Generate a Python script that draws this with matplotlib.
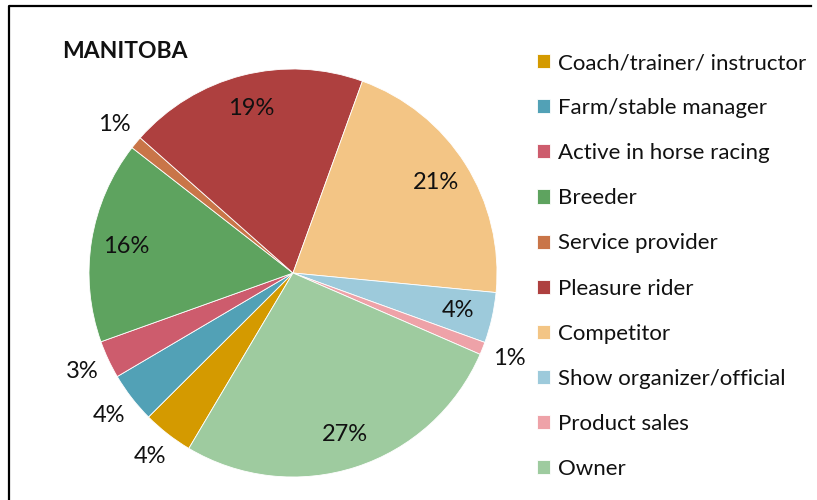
import matplotlib.pyplot as plt
from matplotlib.lines import Line2D
import numpy as np

plt.rcParams['font.family'] = ['Lato', 'DejaVu Sans']

categories = ['Coach/trainer/ instructor', 'Farm/stable manager', 'Active in horse racing',
              'Breeder', 'Service provider', 'Pleasure rider', 'Competitor',
              'Show organizer/official', 'Product sales', 'Owner']
values = [4, 4, 3, 16, 1, 19, 21, 4, 1, 27]
colors = ['#D49A00', '#52A1B6', '#CD5C6D', '#5EA35F', '#C97548', '#AE403F',
          '#F3C585', '#9DCADB', '#EEA2A8', '#9ECB9F']
# labels drawn outside the pie
outside = [True, True, True, False, True, False, False, False, True, False]

W, H = 817, 500
fig = plt.figure(figsize=(W / 100, H / 100), dpi=100)
ax = fig.add_axes([0, 0, 1, 1])

cx, cy, r = 293, H - 273, 204
wedges, _ = ax.pie(values, colors=colors, radius=r, center=(cx, cy),
                   startangle=239.3, counterclock=False, frame=True,
                   wedgeprops=dict(edgecolor='white', linewidth=0.6))
ax.set_xlim(0, W)
ax.set_ylim(0, H)
ax.set_aspect('equal')
ax.axis('off')

for w, v, out in zip(wedges, values, outside):
    mid = np.deg2rad((w.theta1 + w.theta2) / 2)
    k = 1.14 if out else 0.83
    ax.text(cx + k * r * np.cos(mid), cy + k * r * np.sin(mid), f'{v}%',
            ha='center', va='center', fontsize=17, color='#111111')

ax.text(62, H - 52, 'MANITOBA', fontsize=16.5, fontweight='bold',
        ha='left', va='center', color='#111111')

leg = ax.legend(wedges, categories, loc='upper left', bbox_to_anchor=(537 / W, 1 - 53 / H),
                frameon=False, fontsize=16, handlelength=0.6, handleheight=0.6,
                handletextpad=0.35, labelspacing=1.13, borderpad=0, borderaxespad=0)
for t in leg.get_texts():
    t.set_color('#111111')

# chart border
fig.add_artist(Line2D([9 / W, 9 / W, 811 / W], [0, 1 - 6 / H, 1 - 6 / H],
                      color='black', linewidth=1.6, transform=fig.transFigure))

fig.savefig('out.png', dpi=100)
